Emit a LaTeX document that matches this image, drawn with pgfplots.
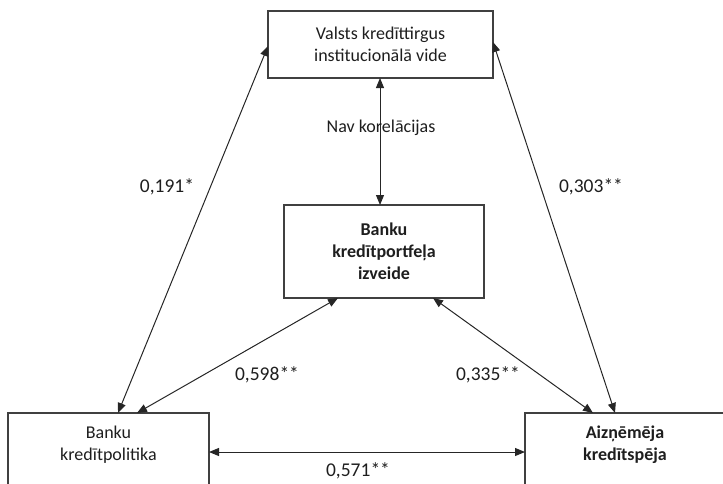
\documentclass[border=0pt]{standalone}
\usepackage{pgfplots}
\pgfplotsset{compat=1.18}
\usetikzlibrary{arrows.meta}
\usepackage{fontspec}
\setmainfont{Carlito}
\definecolor{ln}{HTML}{262626}
\definecolor{bx}{HTML}{404040}
\definecolor{tx}{HTML}{1E1E1E}
\begin{document}
\begin{tikzpicture}
\useasboundingbox (0,0) rectangle (723pt,483pt);
\begin{axis}[at={(0,0)}, anchor=south west, width=723pt, height=483pt, scale only axis,
  xmin=0, xmax=723, ymin=0, ymax=483, y dir=reverse, hide axis, clip=false]
% boxes
\addplot[draw=bx, line width=1.1pt, line join=miter] coordinates {(268,11) (493,11) (493,78) (268,78)} -- cycle;
\addplot[draw=bx, line width=1.1pt, line join=miter] coordinates {(284,205) (484,205) (484,298) (284,298)} -- cycle;
\addplot[draw=bx, line width=1.1pt, line join=miter] coordinates {(8,413) (209,413) (209,495) (8,495)} -- cycle;
\addplot[draw=bx, line width=1.1pt, line join=miter] coordinates {(525,413) (728,413) (728,495) (525,495)} -- cycle;
% arrows
\pgfplotsset{dbl/.style={draw=ln, line width=1pt, arrows={Triangle[length=10pt,width=8pt]}-{Triangle[length=10pt,width=8pt]}}}
\addplot[dbl] coordinates {(380,78) (380,205)};
\addplot[dbl] coordinates {(268,46) (118,413)};
\addplot[dbl] coordinates {(493,42) (615,413)};
\addplot[dbl] coordinates {(338,298) (137,413)};
\addplot[dbl] coordinates {(433,298) (593,413)};
\addplot[dbl] coordinates {(209,452) (525,452)};
% box texts
\node[text=tx, font=\fontsize{18}{22}\selectfont, align=center] at (axis cs:380.5,44) {Valsts kredīttirgus\\institucionālā vide};
\node[text=tx, font=\fontsize{18}{22}\selectfont\bfseries, align=center] at (axis cs:384,251) {Banku\\kredītportfeļa\\izveide};
\node[text=tx, font=\fontsize{18}{22}\selectfont, align=center] at (axis cs:108.5,445) {Banku\\kredītpolitika};
\node[text=tx, font=\fontsize{18}{22}\selectfont\bfseries, align=center] at (axis cs:625,445) {Aizņēmēja\\kredītspēja};
% labels
\node[text=tx, font=\fontsize{18}{22}\selectfont] at (axis cs:381,128) {Nav korelācijas};
\node[text=tx, font=\fontsize{19.5}{22}\selectfont] at (axis cs:167,187) {0,191*};
\node[text=tx, font=\fontsize{19.5}{22}\selectfont] at (axis cs:591,187) {0,303**};
\node[text=tx, font=\fontsize{19.5}{22}\selectfont] at (axis cs:267,375) {0,598**};
\node[text=tx, font=\fontsize{19.5}{22}\selectfont] at (axis cs:488,375) {0,335**};
\node[text=tx, font=\fontsize{19.5}{22}\selectfont] at (axis cs:358,471) {0,571**};
\end{axis}
\end{tikzpicture}
\end{document}
